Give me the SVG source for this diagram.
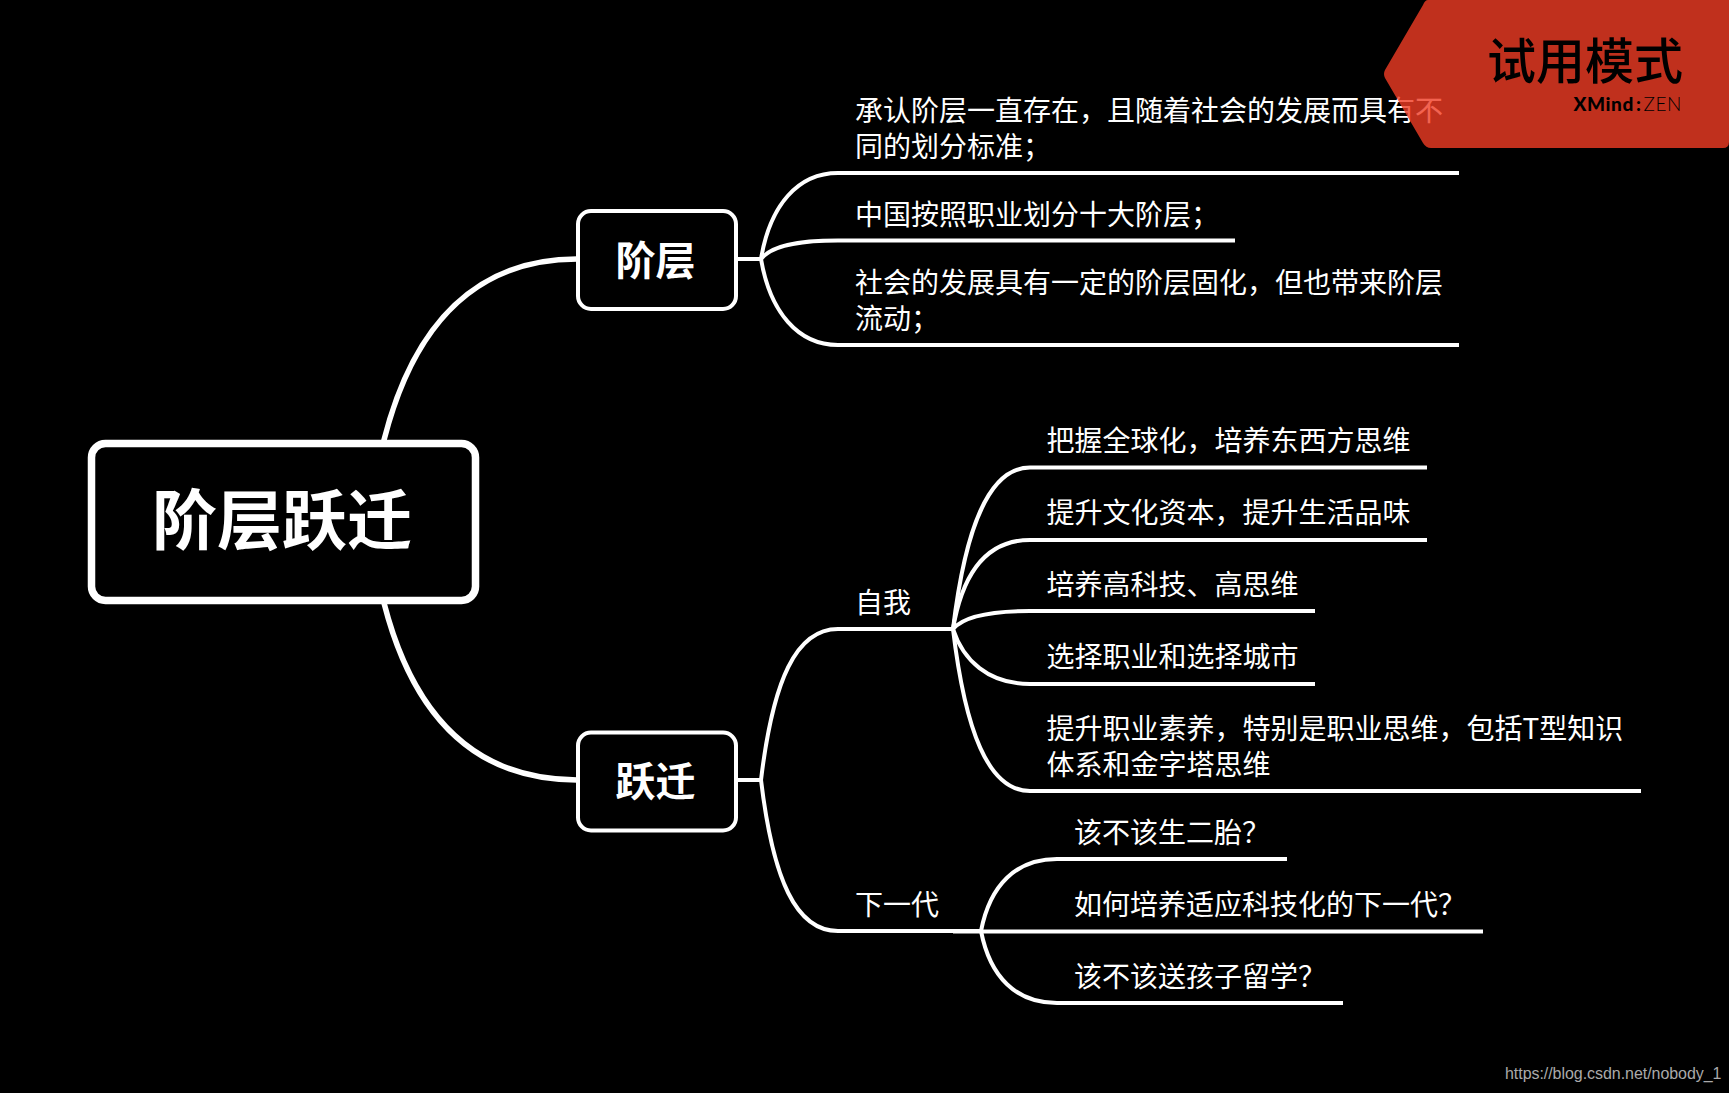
<svg xmlns="http://www.w3.org/2000/svg" width="1729" height="1093" viewBox="0 0 1729 1093">
<style>
text{font-family:"Noto Sans CJK SC","Noto Sans",sans-serif;fill:#fff}
.t{font-size:28px}
.b{font-size:40px;font-weight:700;text-anchor:middle}
.box{fill:#000;stroke:#fff;stroke-width:4;}
.c{fill:none;stroke:#fff;stroke-width:4}
.m{fill:none;stroke:#fff;stroke-width:5.500;stroke-linecap:round}
</style>
<rect width="1729" height="1093" fill="#000"/>
<g id="root"><rect x="91.500" y="443.500" width="384" height="157" rx="14" fill="#000" stroke="#fff" stroke-width="7.500"/><text x="282" y="544" font-size="65" font-weight="700" text-anchor="middle">阶层跃迁</text></g>
<g id="n-jieceng"><rect class="box" x="578" y="211" width="158" height="98" rx="13"/><text class="b" x="655.500" y="275">阶层</text></g>
<g id="n-yueqian"><rect class="box" x="578" y="732.500" width="158" height="98" rx="13"/><text class="b" x="655.500" y="796">跃迁</text></g>
<g id="connectors">
<path class="m" d="M384,440C414,322 478,259 577,259"/>
<path class="m" d="M384,603C414,720 478,780 577,780"/>
<path class="c" d="M737,259H761"/>
<path class="c" d="M761,259C770,205 798,173 838,173H1459"/>
<path class="c" d="M761,259C771,246 796,240.500 838,240.500H1235"/>
<path class="c" d="M761,259C770,312 798,345 838,345H1459"/>
<path class="c" d="M737,780H761"/>
<path class="c" d="M761,780C773,680 796,629 838,629H953"/>
<path class="c" d="M761,780C773,880 796,931 838,931H983"/>
<path class="c" d="M953,629C965,530 988,467.500 1030,467.500H1427"/>
<path class="c" d="M953,629C963,570 988,540 1030,540H1427"/>
<path class="c" d="M953,629C963,617 988,611 1030,611H1315"/>
<path class="c" d="M953,629C963,660 988,684 1030,684H1315"/>
<path class="c" d="M953,629C965,730 988,791 1030,791H1641"/>
<path class="c" d="M981,931C990,885 1016,859 1057,859H1287"/>
<path class="c" d="M953,931.500H1483"/>
<path class="c" d="M981,931C990,977 1016,1003 1057,1003H1343"/>
</g>
<g id="n1"><text class="t" x="855" y="121">承认阶层一直存在，且随着社会的发展而具有不</text><text class="t" x="855" y="157">同的划分标准；</text></g>
<g id="n2"><text class="t" x="855" y="225">中国按照职业划分十大阶层；</text></g>
<g id="n3"><text class="t" x="855" y="293">社会的发展具有一定的阶层固化，但也带来阶层</text><text class="t" x="855" y="329">流动；</text></g>
<g id="n-ziwo"><text class="t" x="855" y="613">自我</text></g>
<g id="n-xiayidai"><text class="t" x="855" y="915">下一代</text></g>
<g id="n4"><text class="t" x="1046.500" y="451">把握全球化，培养东西方思维</text></g>
<g id="n5"><text class="t" x="1046.500" y="523">提升文化资本，提升生活品味</text></g>
<g id="n6"><text class="t" x="1046.500" y="595">培养高科技、高思维</text></g>
<g id="n7"><text class="t" x="1046.500" y="667">选择职业和选择城市</text></g>
<g id="n8"><text class="t" x="1046.500" y="739">提升职业素养，特别是职业思维，包括T型知识</text><text class="t" x="1046.500" y="775">体系和金字塔思维</text></g>
<g id="n9"><text class="t" x="1074" y="843">该不该生二胎？</text></g>
<g id="n10"><text class="t" x="1074" y="915">如何培养适应科技化的下一代？</text></g>
<g id="n11"><text class="t" x="1074" y="987">该不该送孩子留学？</text></g>
<g id="badge">
<path d="M1428,0H1729V142Q1729,148 1723,148H1431Q1426,148 1423,143L1385,78Q1383,74 1385,70L1423,5Q1425,0 1428,0Z" fill="#f03c24" fill-opacity=".8"/>
<text x="1487" y="79" font-size="49" font-weight="500" style="fill:#000">试用模式</text>
<text x="1682" y="111" font-size="19" letter-spacing=".6" text-anchor="end" style="fill:#000;font-family:Lato,sans-serif"><tspan font-weight="900">XMind</tspan><tspan font-weight="900" dx="2">:</tspan><tspan font-weight="300" dx="2">ZEN</tspan></text>
</g>
<g id="watermark"><text x="1505" y="1079" font-size="16" letter-spacing="-.05" style="fill:#aaa;font-family:'Liberation Sans',sans-serif">https://blog.csdn.net/nobody_1</text></g>
</svg>
